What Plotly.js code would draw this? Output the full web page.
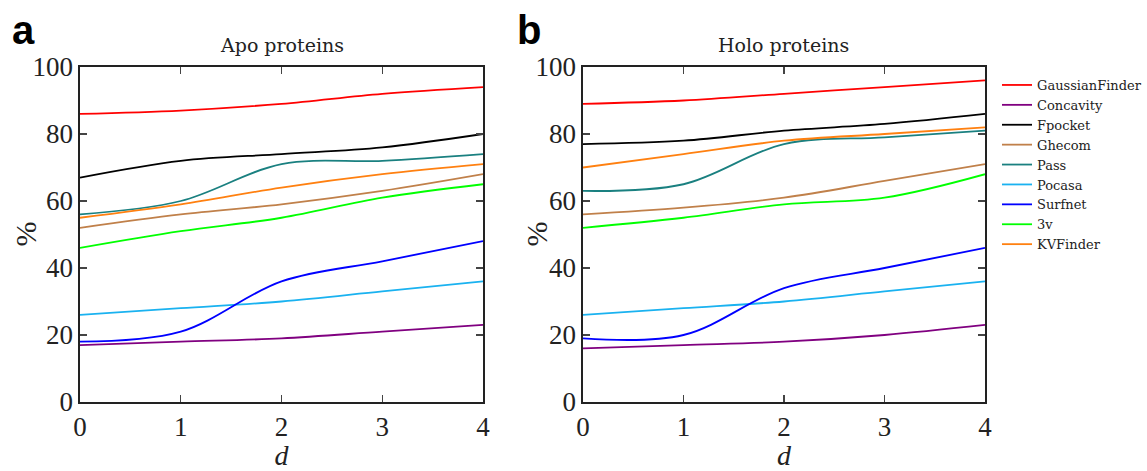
<!DOCTYPE html>
<html>
<head>
<meta charset="utf-8">
<script src="https://cdn.plot.ly/plotly-3.0.1.min.js"></script>
<style>html,body{margin:0;padding:0;background:#fff;}#chart{width:1147px;height:471px;}</style>
</head>
<body>
<div id="chart"></div>
<script>
const dValues = [0, 1, 2, 3, 4];
const methods = ["GaussianFinder", "Concavity", "Fpocket", "Ghecom", "Pass", "Pocasa", "Surfnet", "3v", "KVFinder"];
const colors = ["#ff0000", "#800080", "#000000", "#c0804a", "#1a8080", "#1ab2f0", "#0000ff", "#00ff00", "#ff8010"];

// Panel a: Apo proteins
const apoGaussianFinder = [86, 87, 89, 92, 94];
const apoConcavity      = [17, 18, 19, 21, 23];
const apoFpocket        = [67, 72, 74, 76, 80];
const apoGhecom         = [52, 56, 59, 63, 68];
const apoPass           = [56, 60, 71, 72, 74];
const apoPocasa         = [26, 28, 30, 33, 36];
const apoSurfnet        = [18, 21, 36, 42, 48];
const apo3v             = [46, 51, 55, 61, 65];
const apoKVFinder       = [55, 59, 64, 68, 71];

// Panel b: Holo proteins
const holoGaussianFinder = [89, 90, 92, 94, 96];
const holoConcavity      = [16, 17, 18, 20, 23];
const holoFpocket        = [77, 78, 81, 83, 86];
const holoGhecom         = [56, 58, 61, 66, 71];
const holoPass           = [63, 65, 77, 79, 81];
const holoPocasa         = [26, 28, 30, 33, 36];
const holoSurfnet        = [19, 20, 34, 40, 46];
const holo3v             = [52, 55, 59, 61, 68];
const holoKVFinder       = [70, 74, 78, 80, 82];

const apoSeries = [apoGaussianFinder, apoConcavity, apoFpocket, apoGhecom, apoPass, apoPocasa, apoSurfnet, apo3v, apoKVFinder];
const holoSeries = [holoGaussianFinder, holoConcavity, holoFpocket, holoGhecom, holoPass, holoPocasa, holoSurfnet, holo3v, holoKVFinder];

const xTickVals = [0, 1, 2, 3, 4];
const yTickVals = [0, 20, 40, 60, 80, 100];
const panelTitles = ["Apo proteins", "Holo proteins"];
const panelLetters = ["a", "b"];
const yAxisTitle = "%";
const xAxisTitle = "<i>d</i>";

const traces = [];
apoSeries.forEach((ys, i) => {
  traces.push({
    x: dValues, y: ys, type: "scatter", mode: "lines",
    name: methods[i], legendgroup: methods[i], showlegend: true,
    line: {color: colors[i], width: 1.8, shape: "spline", smoothing: 1},
    xaxis: "x", yaxis: "y"
  });
});
holoSeries.forEach((ys, i) => {
  traces.push({
    x: dValues, y: ys, type: "scatter", mode: "lines",
    name: methods[i], legendgroup: methods[i], showlegend: false,
    line: {color: colors[i], width: 1.8, shape: "spline", smoothing: 1},
    xaxis: "x2", yaxis: "y2"
  });
});

const serif = "Liberation Serif, DejaVu Serif, serif";
const wideSerif = "DejaVu Serif, Liberation Serif, serif";
function xAxis(domain, anchor) {
  return {
    domain: domain, anchor: anchor, range: [0, 4], tickvals: xTickVals,
    ticks: "inside", ticklen: 7, tickwidth: 1.2, tickcolor: "#444",
    showline: true, linecolor: "#222", linewidth: 1.6, mirror: "ticks",
    showgrid: false, zeroline: false,
    tickfont: {family: serif, size: 27, color: "#222"},
    title: {text: xAxisTitle, font: {family: serif, size: 28, color: "#222"}, standoff: 6},
    automargin: false, fixedrange: true
  };
}
function yAxis(domain, anchor) {
  return {
    domain: domain, anchor: anchor, range: [0, 100], tickvals: yTickVals,
    ticks: "inside", ticklen: 7, tickwidth: 1.2, tickcolor: "#444",
    showline: true, linecolor: "#222", linewidth: 1.6, mirror: "ticks",
    showgrid: false, zeroline: false,
    tickfont: {family: serif, size: 27, color: "#222"},
    automargin: false, fixedrange: true
  };
}

const yDom = [1 - 402/471, 1 - 67/471];
const x1Dom = [80/1147, 483/1147];
const x2Dom = [583/1147, 985/1147];
const yMid = (yDom[0] + yDom[1]) / 2;

const layout = {
  width: 1147, height: 471,
  margin: {l: 0, r: 0, t: 0, b: 0},
  paper_bgcolor: "#fff", plot_bgcolor: "#fff",
  xaxis: xAxis(x1Dom, "y"),
  yaxis: yAxis(yDom, "x"),
  xaxis2: xAxis(x2Dom, "y2"),
  yaxis2: yAxis(yDom, "x2"),
  showlegend: true,
  legend: {
    x: 997/1147, y: 1 - 70/471, xanchor: "left", yanchor: "top",
    font: {family: wideSerif, size: 13, color: "#222"},
    bgcolor: "rgba(0,0,0,0)", borderwidth: 0, tracegroupgap: 0,
    itemwidth: 30
  },
  annotations: [
    {text: panelTitles[0], x: (x1Dom[0] + x1Dom[1]) / 2, y: 1 - 45/471, xref: "paper", yref: "paper",
     showarrow: false, font: {family: wideSerif, size: 19, color: "#222"}, xanchor: "center", yanchor: "middle"},
    {text: panelTitles[1], x: (x2Dom[0] + x2Dom[1]) / 2, y: 1 - 45/471, xref: "paper", yref: "paper",
     showarrow: false, font: {family: wideSerif, size: 19, color: "#222"}, xanchor: "center", yanchor: "middle"},
    {text: yAxisTitle, x: 25/1147, y: yMid, xref: "paper", yref: "paper", textangle: -90,
     showarrow: false, font: {family: serif, size: 30, color: "#222"}, xanchor: "center", yanchor: "middle"},
    {text: yAxisTitle, x: 536/1147, y: yMid, xref: "paper", yref: "paper", textangle: -90,
     showarrow: false, font: {family: serif, size: 30, color: "#222"}, xanchor: "center", yanchor: "middle"},
    {text: "<b>" + panelLetters[0] + "</b>", x: 10/1147, y: 1 - 30/471, xref: "paper", yref: "paper",
     showarrow: false, font: {family: "Liberation Sans, Arial, sans-serif", size: 40, color: "#000"}, xanchor: "left", yanchor: "middle"},
    {text: "<b>" + panelLetters[1] + "</b>", x: 515/1147, y: 1 - 30/471, xref: "paper", yref: "paper",
     showarrow: false, font: {family: "Liberation Sans, Arial, sans-serif", size: 40, color: "#000"}, xanchor: "left", yanchor: "middle"}
  ]
};

Plotly.newPlot("chart", traces, layout, {displayModeBar: false, staticPlot: true});
</script>
</body>
</html>
